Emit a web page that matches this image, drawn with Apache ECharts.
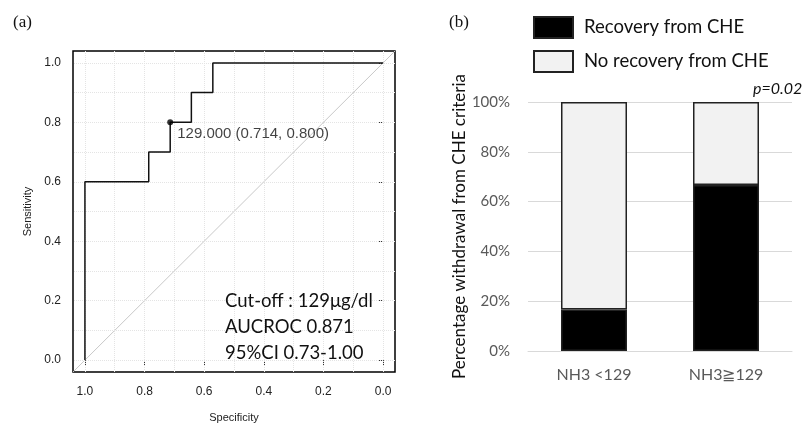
<!DOCTYPE html>
<html>
<head>
<meta charset="utf-8">
<script src="https://cdn.jsdelivr.net/npm/echarts@6/dist/echarts.min.js"></script>
<style>
  html, body { margin: 0; padding: 0; background: #fff; }
  #chart { width: 809px; height: 423px; }
</style>
</head>
<body>
<div id="chart"></div>
<script>
// (a) ROC 曲线数据
var rocSpec = [1.0, 1.0, 0.786, 0.786, 0.714, 0.714, 0.643, 0.643, 0.571, 0.571, 0.0];
var rocSens = [0.0, 0.6, 0.6, 0.7, 0.7, 0.8, 0.8, 0.9, 0.9, 1.0, 1.0];
var cutSpec = 0.714;
var cutSens = 0.800;
var rocTicks = [0, 0.2, 0.4, 0.6, 0.8, 1.0];
var rocGrid = [0, 0.1, 0.2, 0.3, 0.4, 0.5, 0.6, 0.7, 0.8, 0.9, 1.0];

// (b) 堆叠柱状图数据
var groups = ['NH3 <129', 'NH3\u2267129'];
var recovery = [16.7, 66.7];
var noRecovery = [83.3, 33.3];

var myChart = echarts.init(document.getElementById('chart'));

var rocPoints = rocSpec.map(function (s, i) { return [s, rocSens[i]]; });

option = {
	animation: false,
	grid: [
		{ left: 73, top: 51, width: 322, height: 321, show: true, borderColor: '#000', borderWidth: 1.5, outerBoundsMode: 'none' },
		{ left: 528, top: 102, width: 264, height: 249, outerBoundsMode: 'none' }
	],
	legend: {
		orient: 'vertical',
		left: 528,
		top: 11,
		itemWidth: 39,
		itemHeight: 21,
		itemGap: 11,
		icon: 'rect',
		data: ['Recovery from CHE', 'No recovery from CHE'],
		textStyle: { fontFamily: 'Lato', fontSize: 18.5, color: '#111', padding: [0, 0, 0, 6] }
	},
	xAxis: [{
		gridIndex: 0,
		type: 'value',
		inverse: true,
		min: -0.04,
		max: 1.04,
		name: 'Specificity',
		nameLocation: 'middle',
		nameGap: 40,
		nameTextStyle: { fontFamily: 'Liberation Sans', fontSize: 11, color: '#222' },
		axisLine: { show: false },
		axisTick: { show: true, customValues: rocTicks, length: 5, lineStyle: { color: '#333' } },
		axisLabel: { customValues: rocTicks, margin: 14, fontFamily: 'Liberation Sans', fontSize: 12, color: '#222',
			formatter: function (v) { return v.toFixed(1); } },
		splitLine: { show: false }
	}, {
		gridIndex: 1,
		type: 'category',
		data: groups,
		axisLine: { lineStyle: { color: '#d9d9d9' } },
		axisTick: { show: false },
		axisLabel: { margin: 16, fontFamily: 'Lato', fontSize: 16, color: '#595959' }
	}],
	yAxis: [{
		gridIndex: 0,
		type: 'value',
		min: -0.04,
		max: 1.04,
		name: 'Sensitivity',
		nameLocation: 'middle',
		nameGap: 40,
		nameTextStyle: { fontFamily: 'Liberation Sans', fontSize: 11, color: '#222' },
		axisLine: { show: false },
		axisTick: { show: true, customValues: rocTicks, length: 5, lineStyle: { color: '#333' } },
		axisLabel: { customValues: rocTicks, margin: 12, fontFamily: 'Liberation Sans', fontSize: 12, color: '#222',
			formatter: function (v) { return v.toFixed(1); } },
		splitLine: { show: false }
	}, {
		gridIndex: 1,
		type: 'value',
		min: 0,
		max: 100,
		interval: 20,
		name: 'Percentage withdrawal from CHE criteria',
		nameLocation: 'middle',
		nameGap: 60,
		nameTextStyle: { fontFamily: 'Lato', fontSize: 17, color: '#111', padding: [0, 0, 0, 0] },
		axisLine: { show: false },
		axisTick: { show: false },
		axisLabel: { margin: 18, fontFamily: 'Lato', fontSize: 15, color: '#595959', formatter: '{value}%' },
		splitLine: { lineStyle: { color: '#d9d9d9', width: 1 } }
	}],
	series: [{
		// 网格虚线
		type: 'line',
		xAxisIndex: 0,
		yAxisIndex: 0,
		z: 0,
		data: [],
		silent: true,
		markLine: {
			silent: true,
			symbol: 'none',
			label: { show: false },
			lineStyle: { color: '#e4e4e4', type: 'dotted', width: 1 },
			data: rocGrid.map(function (v) { return { xAxis: v }; })
				.concat(rocGrid.map(function (v) { return { yAxis: v }; }))
		}
	}, {
		// 对角线
		type: 'line',
		xAxisIndex: 0,
		yAxisIndex: 0,
		z: 3,
		data: [[1.04, -0.04], [-0.04, 1.04]],
		symbol: 'none',
		silent: true,
		lineStyle: { color: '#c8c8c8', width: 1 }
	}, {
		type: 'line',
		xAxisIndex: 0,
		yAxisIndex: 0,
		z: 5,
		data: rocPoints,
		symbol: 'none',
		lineStyle: { color: '#111', width: 1.5 }
	}, {
		type: 'scatter',
		xAxisIndex: 0,
		yAxisIndex: 0,
		z: 6,
		data: [[cutSpec, cutSens]],
		symbolSize: 6,
		itemStyle: { color: '#000' },
		label: {
			show: true,
			position: 'right',
			distance: 4,
			offset: [0, 12],
			fontFamily: 'Liberation Sans',
			fontSize: 15,
			color: '#111',
			formatter: function () {
				return '129.000 (' + cutSpec.toFixed(3) + ', ' + cutSens.toFixed(3) + ')';
			}
		}
	}, {
		name: 'Recovery from CHE',
		type: 'bar',
		xAxisIndex: 1,
		yAxisIndex: 1,
		stack: 'all',
		barWidth: 66,
		data: recovery,
		itemStyle: { color: '#000', borderColor: '#222', borderWidth: 1.5 }
	}, {
		name: 'No recovery from CHE',
		type: 'bar',
		xAxisIndex: 1,
		yAxisIndex: 1,
		stack: 'all',
		barWidth: 66,
		data: noRecovery,
		itemStyle: { color: '#f2f2f2', borderColor: '#222', borderWidth: 1.5 }
	}],
	graphic: [
		{ type: 'text', z: 100, left: 13, top: 14, style: { text: '(a)', font: '17px "Liberation Serif"', fill: '#111' } },
		{ type: 'text', z: 100, left: 449, top: 14, style: { text: '(b)', font: '17px "Liberation Serif"', fill: '#111' } },
		{ type: 'text', z: 100, left: 225, top: 288, style: { text: 'Cut-off : 129\u03bcg/dl\nAUCROC 0.871\n95%CI 0.73-1.00',
			font: '18.5px Lato', fill: '#111', lineHeight: 26 } },
		{ type: 'text', z: 100, left: 753, top: 81, style: { text: 'p=0.02', font: 'italic 16px Lato', fill: '#111' } }
	]
};

myChart.setOption(option);
</script>
</body>
</html>
